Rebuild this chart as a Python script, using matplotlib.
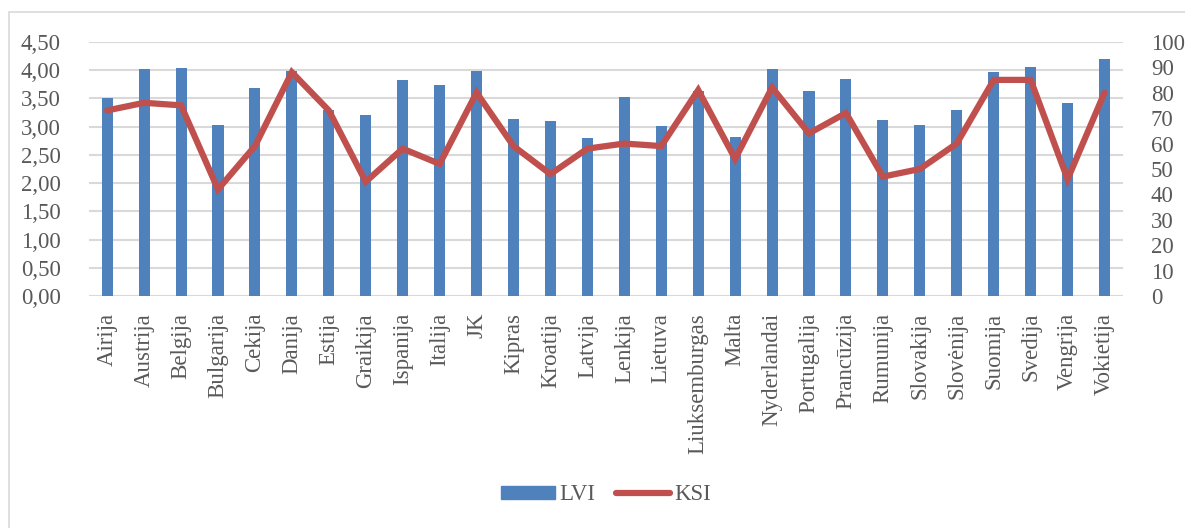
import matplotlib
matplotlib.use("Agg")
import matplotlib.pyplot as plt
from matplotlib.patches import Rectangle
from matplotlib.lines import Line2D
import numpy as np

countries = ["Airija", "Austrija", "Belgija", "Bulgarija", "Cekija", "Danija", "Estija",
             "Graikija", "Ispanija", "Italija", "JK", "Kipras", "Kroatija", "Latvija",
             "Lenkija", "Lietuva", "Liuksemburgas", "Malta", "Nyderlandai", "Portugalija",
             "Prancūzija", "Rumunija", "Slovakija", "Slovėnija", "Suomija", "Svedija",
             "Vengrija", "Vokietija"]
lvi = [3.50, 4.02, 4.03, 3.03, 3.68, 3.99, 3.30, 3.20, 3.83, 3.73, 3.98, 3.14, 3.10, 2.80,
       3.53, 3.01, 3.62, 2.81, 4.01, 3.63, 3.84, 3.12, 3.02, 3.30, 3.96, 4.05, 3.42, 4.20]
ksi = [73, 76, 75, 42, 59, 88, 73, 45, 58, 52, 80, 59, 48, 58, 60, 59, 81, 54, 82, 64,
       72, 47, 50, 60, 85, 85, 46, 80]
left_ticks = [0.0, 0.5, 1.0, 1.5, 2.0, 2.5, 3.0, 3.5, 4.0, 4.5]
right_ticks = [0, 10, 20, 30, 40, 50, 60, 70, 80, 90, 100]

W, H = 1185, 528
fig = plt.figure(figsize=(W / 100, H / 100), dpi=100)
plt.rcParams["font.family"] = ["Liberation Serif", "DejaVu Serif"]

txt = "#595959"
grid = "#d9d9d9"
blue = "#4f81bd"
red = "#c0504d"
fs = 16.5

# outer chart frame (left and top edges visible)
fig.patches.append(Rectangle((8.5 / W, -0.1), 1.2, (H - 12.5) / H + 0.1,
                             transform=fig.transFigure, fill=False,
                             edgecolor=grid, linewidth=1.2))

x0, x1 = 88.7, 1123
y0, y1 = 296.3, 41.7
ax = fig.add_axes([x0 / W, 1 - y0 / H, (x1 - x0) / W, (y0 - y1) / H])
ax2 = ax.twinx()

x = np.arange(len(countries))
ax.bar(x, lvi, width=0.3, color=blue, zorder=2)
ax.set_xlim(-0.5, len(countries) - 0.5)
ax.set_ylim(0, 4.5)
ax.set_yticks(left_ticks)
ax.set_yticklabels([f"{v:.2f}".replace(".", ",") for v in left_ticks])
for v in left_ticks:
    ax.axhline(v, color=grid, linewidth=1.5, zorder=0)

ax2.plot(x, ksi, color=red, linewidth=4.5, solid_capstyle="round",
         solid_joinstyle="miter", zorder=3)
ax2.set_ylim(0, 100)
ax2.set_yticks(right_ticks)
ax2.set_yticklabels([str(v) for v in right_ticks])

ax.set_xticks(x)
ax.set_xticklabels(countries, rotation=90, va="top", ha="center")

for a in (ax, ax2):
    for s in a.spines.values():
        s.set_visible(False)
    a.tick_params(length=0, colors=txt, labelsize=fs)
ax.tick_params(axis="y", pad=20)
ax.tick_params(axis="x", pad=12)
ax2.tick_params(axis="y", pad=20)

handles = [Rectangle((0, 0), 1, 1, color=blue),
           Line2D([0], [0], color=red, linewidth=4.5, solid_capstyle="round")]
fig.legend(handles, ["LVI", "KSI"], loc="center", bbox_to_anchor=(606 / W, 1 - 495 / H),
           ncol=2, frameon=False, fontsize=fs, labelcolor=txt,
           handlelength=2.35, handleheight=0.5, columnspacing=0.9, handletextpad=0.2)

fig.savefig("out.png", dpi=100, facecolor="white")
